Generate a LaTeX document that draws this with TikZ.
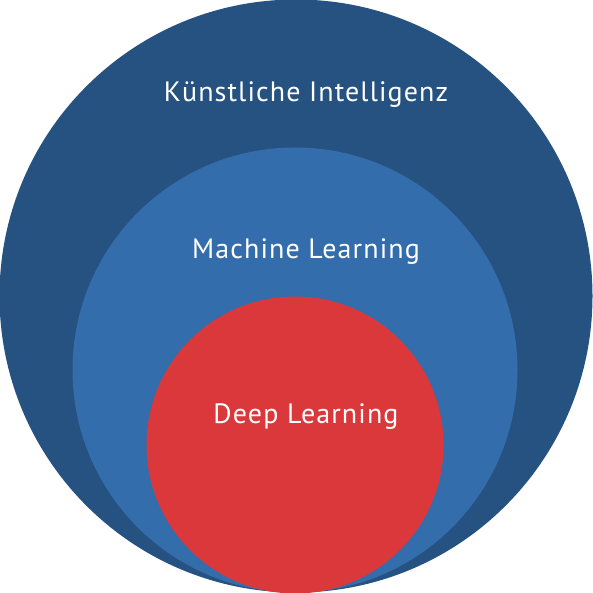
\documentclass[tikz,border=0pt]{standalone}
\usepackage{fontspec}
\setmainfont{PT Sans}[LetterSpace=4]
\definecolor{aiblue}{RGB}{38,82,130}
\definecolor{mlblue}{RGB}{51,109,172}
\definecolor{dlred}{RGB}{219,56,60}
\begin{document}
\begin{tikzpicture}[
  x=1pt, y=1pt,
  disc/.style={circle, inner sep=0pt, outer sep=0pt, draw=none},
  label/.style={text=white, anchor=base, font=\fontsize{28}{34}\selectfont}
]
  \useasboundingbox (0,0) rectangle (593,593);
  \node[disc, fill=aiblue, minimum size=593pt] (ai) at (296,297) {};
  \node[disc, fill=mlblue, minimum size=445pt] (ml) at (295,223) {};
  \node[disc, fill=dlred, minimum size=297pt] (dl) at (295,148) {};

  \node[label] (aitext) at (306,491) {Künstliche Intelligenz};
  \node[label] (mltext) at (306,334) {Machine Learning};
  \node[label] (dltext) at (306,169) {Deep Learning};
\end{tikzpicture}
\end{document}
